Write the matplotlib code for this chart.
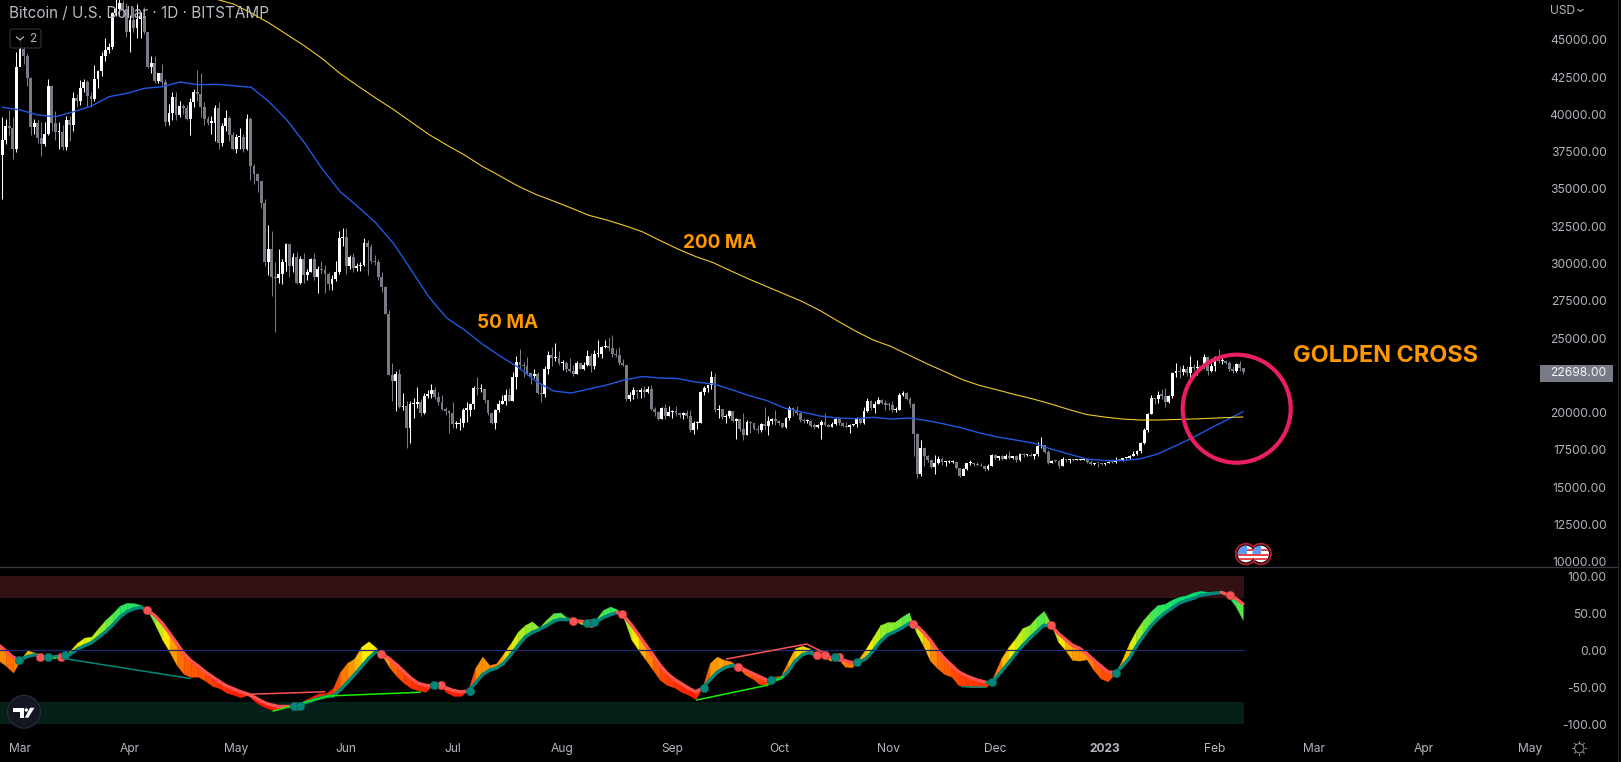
import matplotlib
matplotlib.use("Agg")
import matplotlib.pyplot as plt
import numpy as np
from matplotlib.collections import LineCollection
from matplotlib.colors import LinearSegmentedColormap, Normalize
from matplotlib.patches import Circle, FancyBboxPatch, Polygon, Rectangle

plt.rcParams['font.family'] = ['Inter', 'Roboto', 'DejaVu Sans']

# daily candles, first one is 24 Feb 2022, last one 9 Feb 2023 (day 0 = 1 Mar 2022)
first_day = -5
first_open = 37250
closes = [
    38300, 39200, 39100, 37700, 43150,
    44400, 43900, 42450, 39150, 39400, 38400, 38000, 38700, 41900, 39400, 38800, 38800, 37800, 39650, 39300, 41100,
    40900, 41750, 42200, 41250, 41000, 42350, 42900, 43950, 44300, 44500, 46800, 47100, 47450, 47050, 45500,
    46300, 45800, 46400, 46600, 45500, 43200, 43450, 42250, 42750, 42150, 39500, 40100, 41150, 39950, 40550,
    40400, 39700, 40800, 41500, 41350, 40500, 39700, 39450, 39450, 40450, 38100, 39250, 39750, 38600, 37650,
    38470, 38500, 37700, 39700, 36550, 36000, 35500, 34050, 30100, 31000, 29100, 29050, 29300, 30100, 31300,
    29850, 30450, 28700, 30300, 29200, 29450, 30300, 29100, 29650, 29550, 29300, 28600, 28950, 29450, 31700, 31800,
    29800, 30450, 29700, 29850, 29900, 31350, 31100, 30200, 30100, 29100, 28400, 26600, 22500, 22100, 22600,
    20400, 20450, 19000, 20550, 20600, 20700, 19950, 21100, 21230, 21500, 21050, 20730, 20250, 20100, 19950,
    19250, 19250, 19300, 20200, 20200, 20550, 21650, 21600, 21600, 20850, 19950, 19300, 20200, 20550, 20800,
    21200, 20800, 22400, 23400, 23200, 23150, 22680, 22450, 22600, 21300, 21250, 22950, 23850, 23650, 23650, 23300,
    23300, 22950, 22800, 22600, 23300, 22950, 23170, 23800, 23150, 23950, 23950, 24400, 24450, 24300, 23900,
    23850, 23350, 23200, 20900, 21150, 21500, 21400, 21500, 21380, 21550, 20250, 20030, 19550, 20280, 19800, 20050,
    20130, 19950, 19830, 20000, 19800, 18800, 19290, 19320, 21360, 21650, 21830, 22400, 20180, 20230, 19700,
    19800, 20120, 19420, 19540, 18880, 18500, 19400, 19300, 18920, 18800, 19230, 19080, 19410, 19590, 19420,
    19310, 19060, 19620, 20340, 20160, 19960, 19530, 19420, 19440, 19130, 19060, 19150, 19380, 19180, 19060,
    19260, 19550, 19330, 19120, 19040, 19160, 19210, 19570, 19330, 20090, 20770, 20290, 20600, 20820, 20620, 20490,
    20480, 20150, 20200, 21150, 21300, 20900, 20600, 18540, 15880, 17600, 17070, 16800, 16330, 16620, 16900,
    16660, 16690, 16700, 16700, 16280, 15780, 16220, 16600, 16600, 16520, 16460, 16430, 16210, 16440, 17170,
    16970, 17090, 16890, 17110, 16970, 17090, 16840, 17230, 17130, 17130, 17090, 17210, 17780, 17810, 17360,
    16630, 16780, 16740, 16440, 16900, 16820, 16830, 16800, 16830, 16830, 16910, 16700, 16550, 16640, 16600, 16540,
    16620, 16680, 16670, 16850, 16830, 16950, 16950, 17100, 17200, 17440, 17950, 18850, 19930, 20960, 20880,
    21190, 21140, 20680, 21080, 22670, 22780, 22710, 22920, 22630, 23060, 23010, 23080, 23030, 23740, 22820, 23130,
    23730, 23430, 23430, 23330, 22930, 22760, 23240, 22960, 22698,
]
highs = [
    39800, 39700, 40300, 39800, 44200,
    45400, 45000, 44100, 42500, 39700, 39600, 39500, 39500, 42400, 42000, 40200, 39500, 39300, 39900, 39900, 41500,
    41400, 42300, 42400, 42300, 41500, 43300, 43000, 44200, 45100, 44800, 46900, 48200, 48100, 47700, 47500,
    46700, 47200, 47400, 46900, 47200, 45500, 43900, 43900, 42800, 43400, 42400, 40700, 41500, 41500, 40900,
    40700, 40600, 41100, 41700, 42950, 42800, 40800, 39900, 39900, 40600, 40800, 39400, 40300, 39900, 38800,
    38700, 39100, 38700, 40000, 39800, 36700, 36100, 35500, 34300, 32600, 32200, 30100, 31000, 30300, 31400,
    31300, 30700, 30800, 30500, 30700, 29600, 30400, 30700, 29800, 30200, 29900, 29400, 29200, 30200, 32200, 32400,
    32400, 30600, 30700, 30000, 30100, 31700, 31600, 31300, 30600, 30300, 29400, 28500, 26900, 23300, 22800,
    22900, 21300, 20800, 20800, 21000, 21700, 20900, 21300, 21500, 21900, 21700, 21400, 21150, 20400, 20200,
    20700, 19450, 19650, 20300, 20700, 20650, 21800, 22400, 21950, 21600, 20850, 20000, 20250, 20850, 21200,
    21550, 21650, 22700, 23800, 24250, 23400, 23750, 22650, 22900, 22700, 21900, 23100, 24150, 24400, 24650, 24150,
    23500, 23450, 23650, 23200, 23450, 23350, 23400, 24200, 24000, 24200, 24850, 24450, 24850, 25050, 25200,
    24250, 24400, 23600, 23200, 21350, 21750, 21400, 21650, 21800, 21800, 21850, 20350, 20100, 20400, 20550, 20450,
    20200, 20450, 20050, 20050, 20150, 20150, 19450, 19450, 21450, 21800, 21850, 22800, 22650, 20500, 20200,
    19900, 20150, 20100, 19650, 19600, 19950, 19500, 19450, 19300, 19150, 19300, 20350, 19750, 19650, 20150,
    19480, 19400, 19700, 20450, 20350, 20450, 20050, 19620, 19550, 19520, 19270, 19220, 19500, 19950, 19230,
    19350, 19650, 19700, 19350, 19350, 19250, 19250, 19690, 19600, 20400, 21000, 20850, 20750, 21050, 20930, 20830,
    20680, 20800, 20400, 21300, 21480, 21350, 21050, 20650, 18600, 18150, 17650, 17150, 16900, 17150, 17100,
    17000, 16750, 16850, 16800, 16750, 16300, 16300, 16650, 16800, 16600, 16700, 16600, 16500, 16550, 17250,
    17200, 17100, 17150, 17200, 17400, 17100, 17130, 17290, 17300, 17200, 17270, 17240, 18000, 18350, 17850,
    17500, 16800, 16850, 16800, 17050, 16900, 16860, 16890, 16870, 16860, 16950, 16930, 16800, 16650, 16650, 16630,
    16630, 16750, 16780, 17000, 16880, 16980, 16980, 17150, 17400, 17500, 18000, 19000, 20000, 21200, 21000,
    21450, 21600, 21650, 21180, 22700, 23350, 23100, 23200, 23150, 23800, 23250, 23500, 23180, 23950, 23800, 23300,
    23800, 24250, 23700, 23550, 23450, 23150, 23350, 23450, 23000,
]
lows = [
    34300, 38000, 38600, 37000, 37450,
    43300, 43400, 41900, 38600, 38700, 38100, 37200, 37900, 38600, 38900, 38300, 37700, 37600, 37600, 38200, 38900,
    40500, 40600, 41500, 40500, 40500, 40900, 41800, 42600, 43600, 44100, 44400, 46600, 46600, 46600, 45200,
    44200, 45500, 45100, 45100, 45400, 43100, 42800, 42100, 42100, 42000, 39200, 39300, 39600, 39600, 39800,
    40000, 39600, 38600, 40500, 40900, 39800, 39300, 39300, 38700, 38200, 37700, 37900, 38900, 38200, 37600,
    37400, 37700, 37500, 37600, 35600, 35300, 34800, 33700, 29800, 29200, 27800, 25400, 28700, 28600, 29500,
    29100, 29400, 28650, 28600, 28700, 28900, 29400, 28900, 28000, 29300, 28000, 28200, 28200, 28800, 29300, 31200,
    29300, 29600, 29400, 29500, 29500, 29800, 29200, 30000, 29900, 28900, 28100, 26600, 22500, 20800, 20100,
    20300, 20200, 17600, 17950, 19650, 20300, 19750, 19900, 21000, 21000, 20900, 20500, 20150, 19850, 18650,
    18950, 18950, 18800, 19050, 19350, 19800, 20250, 21200, 21350, 20650, 19850, 19250, 18900, 20050, 20550,
    20500, 20800, 20750, 21600, 22900, 22400, 22500, 21950, 22300, 21250, 20700, 21050, 22600, 23100, 23450, 23200,
    22850, 22700, 22700, 22450, 22600, 22900, 22850, 23150, 22700, 22900, 23700, 23650, 24300, 24100, 23750,
    23700, 23200, 23150, 20800, 20800, 20900, 20950, 21000, 21050, 21300, 20150, 19800, 19500, 19550, 19600, 19800,
    19650, 19750, 19650, 19600, 19650, 18700, 18550, 18900, 19300, 21150, 21400, 21600, 20050, 19650, 19550,
    19300, 19650, 19350, 18250, 18750, 18150, 18500, 18600, 18800, 18650, 18700, 18850, 18500, 19250, 19200,
    19200, 19000, 19000, 19520, 19780, 19850, 19350, 19320, 19320, 19050, 18900, 19000, 18200, 19100, 19050,
    19050, 19200, 19200, 19050, 18950, 18650, 19100, 19050, 19250, 19250, 20050, 20200, 20000, 20550, 20550, 20200,
    20200, 20050, 20050, 20150, 21100, 20850, 20400, 17100, 15600, 15750, 16400, 16700, 16300, 15850, 16550,
    16500, 16450, 16600, 16600, 16250, 15650, 15800, 16150, 16500, 16400, 16400, 16400, 16050, 16150, 16400,
    16850, 16800, 16850, 16880, 16900, 16900, 16700, 16750, 17050, 17090, 17060, 16880, 17100, 17650, 17300,
    16550, 16600, 16660, 16300, 16400, 16700, 16600, 16770, 16800, 16800, 16800, 16600, 16480, 16480, 16350, 16480,
    16500, 16620, 16620, 16650, 16750, 16750, 16900, 16920, 17100, 17150, 17300, 17900, 18700, 19900, 20600,
    20650, 20900, 20400, 20650, 21000, 22400, 22300, 22500, 22450, 22350, 22850, 22500, 22900, 23000, 22550, 22700,
    22800, 23350, 23250, 23250, 22800, 22650, 22750, 22800, 22620,
]

# moving averages, read every 5 days
ma50_days = list(range(-5, 345, 5)) + [344]
ma50 = [
    40477, 40295, 39960, 39846, 40181, 40564, 41188, 41415, 41751, 41858, 42174, 41992, 42019, 41925, 41818,
    40852, 39625, 38082, 36338, 34816, 33810, 32737, 31355, 29564, 27753, 26345, 25540, 24601, 23796, 23059,
    22120, 21449, 21315, 21583, 21851, 22187, 22421, 22321, 22287, 22053, 21919, 21550, 21147, 20812, 20309,
    20040, 19772, 19638, 19591, 19685, 19571, 19638, 19470, 19236, 18967, 18632, 18364, 18162, 17961, 17559,
    17224, 16888, 16787, 16787, 16888, 17224, 17760, 18330, 18967, 19571, 20060,
]
ma200_days = list(range(50, 345, 5)) + [344]
ma200 = [
    48343, 47740, 47405, 46801, 46131, 45359, 44588, 43736, 42744, 41905, 41100, 40329, 39491, 38652, 37948,
    37277, 36519, 35869, 35198, 34642, 34192, 33723, 33233, 32918, 32549, 32133, 31543, 30973, 30470, 30054,
    29497, 28961, 28458, 27955, 27452, 26848, 26144, 25473, 24869, 24434, 23863, 23293, 22757, 22220, 21818,
    21516, 21201, 20912, 20577, 20208, 19873, 19705, 19571, 19504, 19504, 19537, 19571, 19618, 19672, 19705,
]

# oscillator in the lower pane, read every second day from day -6
ribbon_start = -6
ribbon_step = 2
slow = [
    6.8, -1, -9.5, -13, -8.5, -6, -8, -9.5, -8.5, -7.6, -5.5, 1.3, 6, 10, 17.5, 25, 34, 44.6, 52, 56,
    58, 53.6, 46, 36, 23, 9.5, -4, -14, -21, -29, -35.5, -42, -48, -52, -56, -59, -63.5, -69, -73, -75,
    -75, -75, -75, -71, -68, -65, -62.5, -61.6, -53.5, -43.6, -33, -22, -11, -2, -5, -12, -20, -29, -38, -44.6,
    -47, -47, -47, -51, -54.5, -56, -55, -44.6, -33, -27, -24, -17.5, -6, 6, 17.5, 24, 28, 33, 39, 42,
    42, 40, 39, 37.4, 38, 44, 48, 51, 45.5, 34, 20.7, 7, -6, -20, -31, -39, -45, -51, -56, -51,
    -40, -30, -24, -20.7, -22, -26.6, -31, -35.5, -40, -40, -38, -29, -15, -6, -3, -7, -7, -9.5, -9.5, -14,
    -16.6, -16, -11, -0.5, 11.7, 20.7, 25, 30, 36, 34, 25, 14, 0.5, -11, -20, -29, -34, -38, -41, -43.6,
    -40, -29, -17.5, -5, 6, 16, 25, 34, 34, 23, 15, 7, 2.7, -4, -13, -21, -29, -30, -22, -11,
    5, 19, 32, 42, 50, 56.6, 63.4, 67, 70, 74, 75.5, 77, 78, 74.6, 70, 62.5,
]
fast = [
    -14, -21, -30, -13, 0, -3, -6, -8.5, -6, -7.6, -0.5, 10, 17, 18.5, 30, 41, 50, 60, 64, 63.5,
    61, 52, 34, 14, -2, -20, -32, -36, -35.5, -41, -48, -51, -57, -60, -63.5, -60, -69, -75, -79, -81,
    -77, -75, -74, -67, -62.5, -58, -58, -51, -29, -17, -11, 5, 12, 4, -8.5, -24, -35.5, -44.5, -51, -54,
    -56, -47, -47, -57, -61.6, -61.6, -53.5, -24, -8.5, -20, -17.5, -4, 9.5, 25, 34, 39, 30.6, 41, 50, 51,
    43, 40, 35, 36, 42, 54.4, 59, 55, 41, 14, 0, -13, -26.6, -40, -47, -50, -56, -60, -66, -49,
    -17.5, -8.5, -13, -15, -23, -33, -38, -45.5, -47, -35.5, -34.6, -15, 2.7, 6, 2.7, -7, -8.5, -14, -10, -22,
    -23, -11, 2.7, 18.4, 34, 38, 38, 45, 51, 25, 7, -14, -24, -32, -35.5, -47, -49, -50, -50, -49,
    -33, -11, 4, 16, 30, 34, 45, 53, 36, 11.7, 0.5, -13, -14, -12, -26.5, -38, -42, -31, -13, 9.4,
    27, 41, 52, 61, 62.5, 68, 72, 74, 78, 80, 79, 79, 78.7, 72, 59, 41,
]

# crossing dots
teal_dots_day = [-0.3, 7.9, 12.7, 76.9, 78.6, 116.4, 126.6, 159.4, 161.5, 192.4, 211.3, 229.3, 235.3, 273.3, 308.2]
teal_dots_val = [-13.5, -9.5, -7, -75, -74.5, -47, -55, 37.4, 37.8, -51, -40, -9.5, -16.2, -43, -30]
red_dots_day = [5.6, 11.6, 35.7, 77.3, 101.5, 118.5, 155.4, 160.5, 169.4, 202, 224.1, 226.3, 230.5, 251.3, 290.1, 340.3]
red_dots_val = [-8.5, -8.5, 54, -75, -4.5, -47, 40, 37.4, 48.6, -23, -7, -7, -9.5, 36, 34, 74.6]

# divergence lines: days, values
teal_div_days = [[12.1, 47.8], [265, 271.5]]
teal_div_vals = [[-11, -38], [-49, -50]]
red_div_days = [[63.2, 85.7], [198.8, 221.3, 227.4]]
red_div_vals = [[-59.5, -56], [-11.7, 8.5, -6.3]]
lime_div_days = [[71.2, 86.7, 112.5], [190.4, 210, 214.7], [6.5, 10]]
lime_div_vals = [[-82, -61.6, -56.6], [-67, -47.3, -35.5], [-12, -10.5]]

month_days = [0, 31, 61, 92, 122, 153, 184, 214, 245, 275, 306, 337, 365, 396, 426]
month_labels = ['Mar', 'Apr', 'May', 'Jun', 'Jul', 'Aug', 'Sep', 'Oct', 'Nov', 'Dec', '2023', 'Feb', 'Mar', 'Apr', 'May']
# 22500 is hidden behind the last price label in the picture
price_ticks = [10000, 12500, 15000, 17500, 20000, 25000, 27500, 30000, 32500, 35000, 37500, 40000, 42500, 45000]
osc_ticks = [100, 50, 0, -50, -100]

TICK_COL = '#b2b5be'
UP_COL = '#ffffff'
DOWN_COL = '#787b86'
ORANGE = '#ff9800'
TEAL = '#00897b'
CORAL = '#ff5252'


# ribbon, moving average and dot days were read against a slightly narrower day width
def read_day(d):
    return np.asarray(d, dtype=float) * 1.00226 + 0.07


W, H = 1621, 762
fig = plt.figure(figsize=(W / 100, H / 100), dpi=100, facecolor='black')


def pane(top_px, bottom_px):
    return fig.add_axes([0, 1 - bottom_px / H, 1617 / W, (bottom_px - top_px) / H], facecolor='black')


ax1 = pane(0, 567.3)
ax2 = pane(567.3, 730)
xlim = (-20 / 3.546, (1617 - 20) / 3.546)
ax1.set_xlim(xlim)
ax2.set_xlim(xlim)
ax1.set_ylim(9624, 47673)
ax2.set_ylim(-107.5, 111.9)

# candles
closes_a = np.array(closes, dtype=float)
highs_a = np.array(highs, dtype=float)
lows_a = np.array(lows, dtype=float)
opens_a = np.r_[first_open, closes_a[:-1]]
days = first_day + np.arange(len(closes_a))
candle_cols = [UP_COL if c >= o else DOWN_COL for o, c in zip(opens_a, closes_a)]
ax1.vlines(days, lows_a, highs_a, colors=candle_cols, linewidth=0.72, zorder=2)
heights = np.maximum(np.abs(closes_a - opens_a), 75)
ax1.bar(days, heights, bottom=np.minimum(opens_a, closes_a), width=0.8, color=candle_cols, linewidth=0, zorder=3)

ax1.plot(read_day(ma50_days), ma50, color='#2158e0', linewidth=1.0, zorder=4)
ax1.plot(read_day(ma200_days), ma200, color='#eecb2e', linewidth=0.8, zorder=4)

# lower pane bands
last_day = days[-1] + 0.3
ax2.fill_between([xlim[0], last_day], 70, 100, color='#321014', linewidth=0, zorder=1)
ax2.fill_between([xlim[0], last_day], -100, -70, color='#051f19', linewidth=0, zorder=1)
ax2.plot([xlim[0], last_day], [0, 0], color='#1a2a6c', linewidth=0.9, zorder=4)

# ribbon coloured strip by strip
slow_a = np.array(slow, dtype=float)
fast_a = np.array(fast, dtype=float)
rib_x = read_day(ribbon_start + ribbon_step * np.arange(len(slow_a)))
ribbon_cmap = LinearSegmentedColormap.from_list('ribbon', [
    (0.0, '#ff1500'), (0.27, '#ff6a00'), (0.43, '#ffb300'), (0.52, '#ffee00'),
    (0.68, '#a8ee20'), (0.82, '#55e84a'), (1.0, '#00e676')])
ribbon_norm = Normalize(-65, 75)
for i in range(len(rib_x) - 1):
    level = (fast_a[i] + fast_a[i + 1]) / 2
    col = ribbon_cmap(ribbon_norm(level))
    ax2.fill_between(rib_x[i:i + 2], fast_a[i:i + 2], slow_a[i:i + 2], color=col, linewidth=0.25, zorder=2)

pts = np.column_stack([rib_x, slow_a])
segs = np.stack([pts[:-1], pts[1:]], axis=1)
seg_cols = [TEAL if fast_a[i] + fast_a[i + 1] >= slow_a[i] + slow_a[i + 1] else CORAL for i in range(len(segs))]
ax2.add_collection(LineCollection(segs, colors=seg_cols, linewidths=2.4, capstyle='round', zorder=3))

for dd, vv in zip(teal_div_days, teal_div_vals):
    ax2.plot(read_day(dd), vv, color=TEAL, linewidth=1.1, zorder=5)
for dd, vv in zip(red_div_days, red_div_vals):
    ax2.plot(read_day(dd), vv, color=CORAL, linewidth=1.1, zorder=5)
for dd, vv in zip(lime_div_days, lime_div_vals):
    ax2.plot(read_day(dd), vv, color='#19f000', linewidth=1.1, zorder=5)

ax2.scatter(read_day(red_dots_day), red_dots_val, s=36, color=CORAL, edgecolors='#b33a3f', linewidths=0.5, zorder=6)
ax2.scatter(read_day(teal_dots_day), teal_dots_val, s=36, color=TEAL, edgecolors='#0b5f57', linewidths=0.5, zorder=6)

# axes furniture
for ax in (ax1, ax2):
    for s in ax.spines.values():
        s.set_visible(False)
    ax.yaxis.tick_right()
    ax.tick_params(axis='y', length=0, pad=-7.4, labelsize=8.7, labelcolor=TICK_COL)
    ax.tick_params(axis='x', length=0)
ax1.set_yticks(price_ticks)
ax1.set_yticklabels(['%.2f' % p for p in price_ticks], ha='right')
ax2.set_yticks(osc_ticks)
ax2.set_yticklabels(['%.2f' % v for v in osc_ticks], ha='right')
ax1.set_xticks([])
ax2.set_xticks(month_days)
ax2.set_xticklabels(month_labels, fontsize=8.7, color=TICK_COL)
ax2.tick_params(axis='x', pad=9.3)
for lab in ax2.get_xticklabels():
    if lab.get_text() == '2023':
        lab.set_fontweight('bold')

# overlay in pixel coordinates for labels and chart furniture
ov = fig.add_axes([0, 0, 1, 1])
ov.set_xlim(0, W)
ov.set_ylim(H, 0)
ov.axis('off')
ov.patch.set_visible(False)

ov.plot([0, 1617], [567.3, 567.3], color='#363a45', linewidth=0.9)
ov.plot([1617.5, 1617.5], [0, H], color='#22252e', linewidth=0.9)

ov.text(9, 14, 'Bitcoin / U.S. Dollar · 1D · BITSTAMP', color='#b8bbc4', fontsize=11, va='center', ha='left')
ov.add_patch(FancyBboxPatch((10, 29), 31, 19, boxstyle='round,pad=0,rounding_size=2.5',
                            facecolor='#000000', edgecolor='#363a45', linewidth=0.8, alpha=0.9))
ov.plot([16.5, 20, 23.5], [37, 40, 37], color=TICK_COL, linewidth=0.9)
ov.text(33, 39, '2', color=TICK_COL, fontsize=8.7, va='center', ha='center')

ov.text(1550, 11.5, 'USD', color=TICK_COL, fontsize=8.7, va='center', ha='left')
ov.plot([1578, 1580.5, 1583], [9.5, 11.5, 9.5], color=TICK_COL, linewidth=0.8)

ov.add_patch(Rectangle((1540, 365), 72.7, 16.7, facecolor=DOWN_COL, edgecolor='none'))
ov.text(1606.7, 373.5, '22698.00', color='#f0f3fa', fontsize=8.7, va='center', ha='right')

ov.text(476.7, 322.5, '50 MA', color=ORANGE, fontsize=13.6, fontweight='bold', va='center', ha='left')
ov.text(683, 242.5, '200 MA', color=ORANGE, fontsize=13.6, fontweight='bold', va='center', ha='left')
ov.text(1293, 356.5, 'GOLDEN CROSS', color=ORANGE, fontsize=16.9, fontweight='bold', va='center', ha='left')

ov.add_patch(Circle((1236.7, 408.7), 54, fill=False, edgecolor='#e91e63', linewidth=3.0, zorder=8))


def flag(cx, cy):
    ov.add_patch(Circle((cx, cy), 10.3, facecolor='black', edgecolor='#b3202e', linewidth=1.3, zorder=9))
    disc = Circle((cx, cy), 8.3, facecolor='white', edgecolor='none', zorder=10)
    ov.add_patch(disc)
    for y0 in (cy - 5, cy - 0.5, cy + 4):
        st = Rectangle((cx - 9, y0), 18, 2.2, facecolor='#e5484d', edgecolor='none', zorder=11)
        ov.add_patch(st)
        st.set_clip_path(disc)
    can = Rectangle((cx - 9, cy - 9), 9.5, 8.7, facecolor='#5b9bf0', edgecolor='none', zorder=12)
    ov.add_patch(can)
    can.set_clip_path(disc)


flag(1260.7, 554)
flag(1246, 554)

# tradingview badge
ov.add_patch(Circle((24, 711.7), 16.5, facecolor='#131722', edgecolor='#2a2e39', linewidth=0.8, zorder=9))
ov.add_patch(Polygon([(13.3, 708.3), (24, 708.3), (24, 717.7), (20, 717.7), (20, 711.7), (13.3, 711.7)],
                     facecolor='white', edgecolor='none', zorder=10))
ov.add_patch(Circle((26.3, 710), 1.7, facecolor='white', edgecolor='none', zorder=10))
ov.add_patch(Polygon([(30, 707.8), (34.5, 707.8), (28.3, 717.7), (24.8, 717.7)],
                     facecolor='white', edgecolor='none', zorder=10))

# settings icon
ov.add_patch(Circle((1579.3, 748.3), 4.6, fill=False, edgecolor='#9598a1', linewidth=0.7))
for a in np.arange(8) * np.pi / 4:
    ov.plot([1579.3 + 5.6 * np.cos(a), 1579.3 + 7 * np.cos(a)],
            [748.3 + 5.6 * np.sin(a), 748.3 + 7 * np.sin(a)], color='#9598a1', linewidth=0.7)

fig.savefig('out.png', dpi=100, facecolor='black')
